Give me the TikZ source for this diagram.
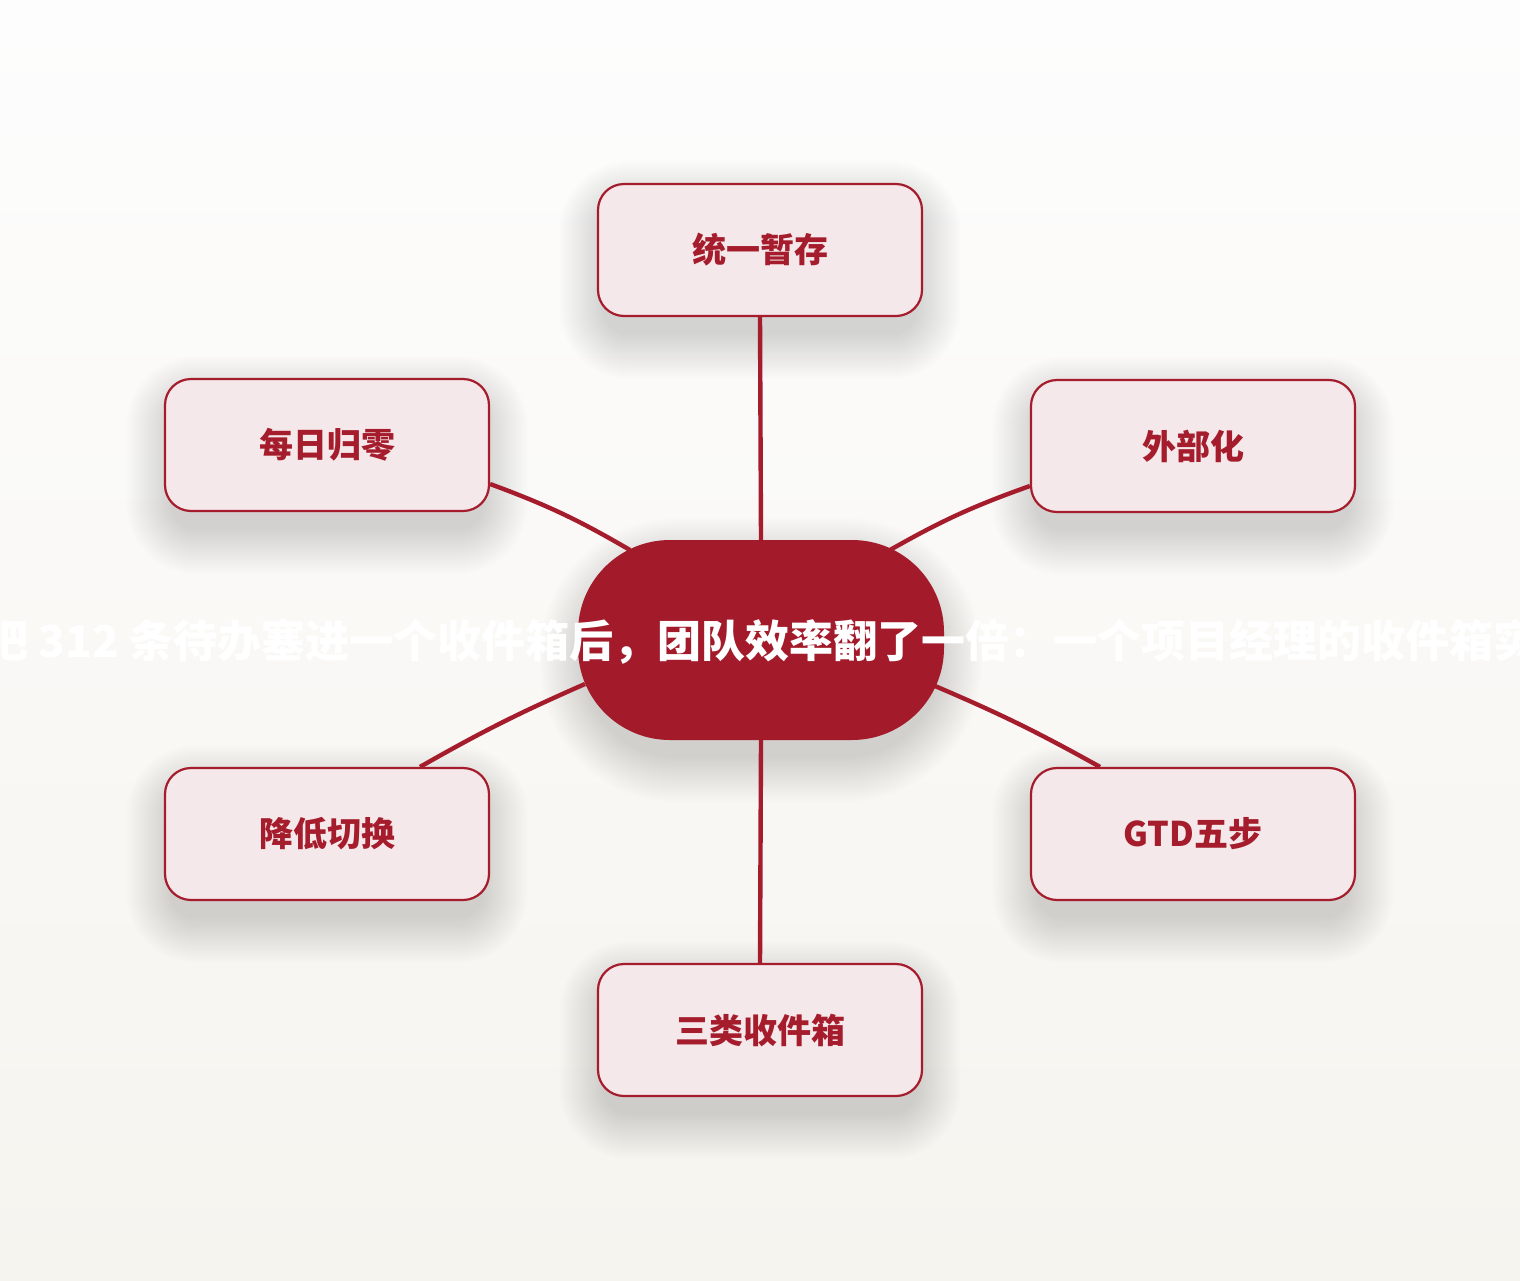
\documentclass[tikz,border=0pt]{standalone}
\usepackage{fontspec}
\setmainfont{Noto Sans CJK SC}
\usetikzlibrary{calc}
\definecolor{crim}{HTML}{A51C2C}
\definecolor{boxfill}{HTML}{F5E8EA}
\definecolor{cfill}{HTML}{A31A2A}
\definecolor{bgtop}{HTML}{FDFDFD}
\definecolor{bgbot}{HTML}{F6F4EF}
% soft shadow: centre x, centre y, width, height, corner radius
\newcommand\softshade[5]{%
  \foreach \k in {0,...,19}{%
    \pgfmathsetmacro\rr{#5+2.3*\k}%
    \fill[black, opacity=0.009, rounded corners=\rr pt]
      ({#1-#3/2-2.3*\k+6},{#2+18-#4/2-2.3*\k+4}) rectangle ({#1+#3/2+2.3*\k-6},{#2+18+#4/2+2.3*\k});
  }}
\begin{document}
\begin{tikzpicture}[x=1pt,y=-1pt,
  leaf/.style={draw=crim, line width=2.2pt, fill=boxfill, rounded corners=26pt,
    minimum width=324pt, minimum height=132pt, inner sep=0pt, text=crim,
    font=\fontsize{34}{40}\selectfont\bfseries},
  hub/.style={fill=cfill, rounded corners=92pt, minimum width=366pt, minimum height=200pt,
    inner sep=0pt},
  link/.style={draw=crim, line width=4.4pt},
  titletext/.style={text=white, font=\fontsize{44}{52}\selectfont\bfseries, inner sep=0pt}]
\useasboundingbox (0,0) rectangle (1520,1280);
\shade[top color=bgtop, bottom color=bgbot] (0,0) rectangle (1520,1280);

% shadows
\softshade{760}{250}{326}{134}{26}
\softshade{1193}{446}{326}{134}{26}
\softshade{1193}{834}{326}{134}{26}
\softshade{760}{1030}{326}{134}{26}
\softshade{327}{834}{326}{134}{26}
\softshade{327}{445}{326}{134}{26}
\softshade{761}{640}{366}{200}{92}

% leaves
\node[leaf] (t)  at (760,250)  {统一暂存};
\node[leaf] (ur) at (1193,446) {外部化};
\node[leaf] (lr) at (1193,834) {GTD五步};
\node[leaf] (b)  at (760,1030) {三类收件箱};
\node[leaf] (ll) at (327,834)  {降低切换};
\node[leaf] (ul) at (327,445)  {每日归零};

% centre
\node[hub] (c) at (761,640) {};

% connectors
\draw[link] (t.south) -- (c.north);
\draw[link] (c.south) -- (b.north);
\draw[link] ($(ul.east)+(0,39)$) to[bend left=5] ($(c.center)+(-131,-90)$);
\draw[link] ($(c.center)+(129,-90)$) to[bend left=5] ($(ur.west)+(0,40)$);
\draw[link] ($(ll.north)+(93,0)$) to[bend left=3] ($(c.center)+(-176,44)$);
\draw[link] ($(c.center)+(174,46)$) to[bend left=3] ($(lr.north)+(-93,0)$);

\node[titletext] (title) at (761,642) {把 312 条待办塞进一个收件箱后，团队效率翻了一倍：一个项目经理的收件箱实};
\end{tikzpicture}
\end{document}
